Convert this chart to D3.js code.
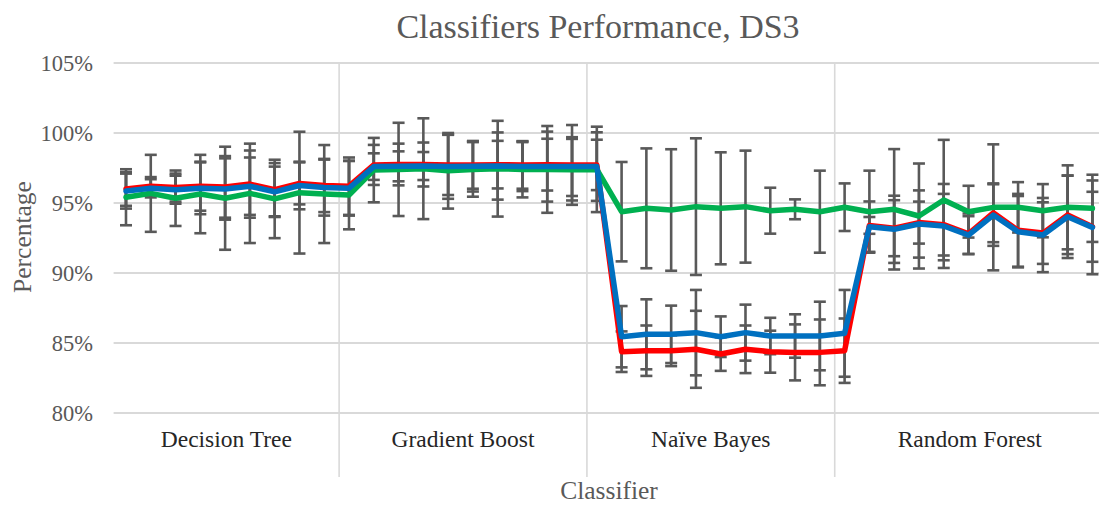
<!DOCTYPE html>
<html>
<head>
<meta charset="utf-8">
<script src="https://cdn.jsdelivr.net/npm/d3@7/dist/d3.min.js"></script>
<style>
  html, body { margin: 0; padding: 0; background: #fff; }
  svg { display: block; font-family: "Liberation Serif", "Times New Roman", serif; }
</style>
</head>
<body>
<svg id="chart" width="1099" height="506"></svg>
<script>
// Classifier groups on the category axis and how many run cells each label spans
const groups = ["Decision Tree", "Gradient Boost", "Naïve Bayes", "Random Forest"];
const groupSpans = [9, 10, 10, 11];

// Y axis ticks (percent)
const yTicks = [80, 85, 90, 95, 100, 105];

// Mean scores per run (percent), 10 runs per classifier
const redValues = [
  96.0, 96.2, 96.1, 96.2, 96.15, 96.35, 95.95, 96.4, 96.25, 96.2,
  97.72, 97.75, 97.75, 97.72, 97.72, 97.74, 97.72, 97.74, 97.72, 97.72,
  84.38, 84.45, 84.45, 84.55, 84.21, 84.55, 84.38, 84.33, 84.33, 84.45,
  93.4, 93.2, 93.6, 93.45, 92.8, 94.3, 93.05, 92.85, 94.15, 93.3
];
const blueValues = [
  95.85, 96.05, 95.95, 96.05, 96.0, 96.2, 95.8, 96.25, 96.1, 96.05,
  97.6, 97.62, 97.64, 97.6, 97.62, 97.64, 97.6, 97.6, 97.6, 97.6,
  85.45, 85.62, 85.62, 85.74, 85.45, 85.74, 85.5, 85.5, 85.5, 85.69,
  93.31, 93.12, 93.5, 93.36, 92.71, 94.14, 92.95, 92.71, 94.02, 93.26
];
const greenValues = [
  95.41, 95.69, 95.34, 95.64, 95.34, 95.69, 95.29, 95.74, 95.64, 95.57,
  97.35, 97.4, 97.45, 97.3, 97.4, 97.45, 97.4, 97.4, 97.38, 97.4,
  94.38, 94.62, 94.5, 94.74, 94.62, 94.74, 94.45, 94.55, 94.38, 94.7,
  94.38, 94.55, 94.07, 95.21, 94.38, 94.69, 94.69, 94.45, 94.69, 94.62
];

// Standard deviations (percent) shown as error bars
const redErrors = [
  1.2, 0.65, 1.0, 1.75, 2.2, 2.4, 1.9, 1.5, 1.9, 2.05,
  1.43, 1.49, 1.57, 2.15, 1.7, 1.7, 1.7, 1.85, 2.85, 1.8,
  1.45, 1.8, 1.1, 2.75, 1.2, 1.7, 1.5, 2.0, 2.35, 2.3,
  0.6, 2.0, 1.5, 2.2, 1.45, 2.1, 2.6, 2.2, 2.8, 2.5
];
const blueErrors = [
  1.25, 0.65, 1.0, 1.85, 2.19, 2.05, 1.8, 1.7, 2.0, 1.95,
  0.95, 1.07, 1.0, 2.3, 1.8, 2.4, 1.75, 2.5, 2.1, 2.45,
  2.19, 2.5, 2.05, 3.05, 1.45, 2.0, 1.3, 1.55, 2.45, 3.1,
  1.8, 2.4, 2.4, 3.0, 1.35, 2.2, 2.55, 2.65, 2.95, 3.35
];
const greenErrors = [
  2.0, 2.75, 1.98, 2.8, 3.68, 3.55, 2.8, 4.35, 3.5, 2.45,
  2.3, 3.33, 3.6, 2.7, 1.95, 3.42, 2.0, 3.1, 2.2, 3.05,
  3.55, 4.28, 4.34, 4.88, 4.0, 4.0, 1.64, 0.71, 2.93, 1.7,
  2.93, 4.3, 3.75, 4.3, 1.85, 4.5, 1.8, 1.9, 3.0, 2.4
];

const series = [
  { values: redValues,   errors: redErrors,   color: "#ff0000" },
  { values: greenValues, errors: greenErrors, color: "#00b050" },
  { values: blueValues,  errors: blueErrors,  color: "#0070c0" }
];

// Layout
const plot = { left: 113.6, right: 1104.8, top: 63, bottom: 413 };
const separatorBottom = 477;
const separatorNudge = 2.5;

const svg = d3.select("#chart");

const runs = d3.range(redValues.length);
const x = d3.scaleBand().domain(runs).range([plot.left, plot.right]).padding(0);
const cx = i => x(i) + x.bandwidth() / 2;
const edge = i => (i >= runs.length ? plot.right : x(i));
const y = d3.scaleLinear().domain([80, 105]).range([plot.bottom, plot.top]);

// Horizontal gridlines
svg.append("g")
  .selectAll("line")
  .data(yTicks)
  .join("line")
  .attr("x1", plot.left)
  .attr("x2", plot.right)
  .attr("y1", d => y(d))
  .attr("y2", d => y(d))
  .attr("stroke", "#d9d9d9")
  .attr("stroke-width", 1.8);

// Y axis labels
const yAxis = svg.append("g")
  .attr("transform", `translate(${plot.left},0)`)
  .call(d3.axisLeft(y).tickValues(yTicks).tickFormat(d => d + "%").tickSize(0).tickPadding(20.5));
yAxis.select(".domain").remove();
yAxis.selectAll("text")
  .attr("fill", "#595959")
  .style("font-family", "'Liberation Serif', 'Times New Roman', serif")
  .style("font-size", "22.5px");

// Group separators and labels along the category axis
const bounds = [0];
groupSpans.forEach(s => bounds.push(bounds[bounds.length - 1] + s));

svg.append("g")
  .selectAll("line")
  .data(bounds.slice(1, -1))
  .join("line")
  .attr("x1", d => edge(d) + separatorNudge)
  .attr("x2", d => edge(d) + separatorNudge)
  .attr("y1", plot.top)
  .attr("y2", separatorBottom)
  .attr("stroke", "#d9d9d9")
  .attr("stroke-width", 1.6);

svg.append("g")
  .selectAll("text")
  .data(groups)
  .join("text")
  .attr("x", (d, i) => {
    const a = i === 0 ? plot.left : edge(bounds[i]) + separatorNudge;
    const b = i === groups.length - 1 ? plot.right : edge(bounds[i + 1]) + separatorNudge;
    return (a + b) / 2;
  })
  .attr("y", 446.5)
  .attr("text-anchor", "middle")
  .attr("fill", "#262626")
  .style("font-size", "23.5px")
  .text(d => d);

// Error bars
const capHalf = 6;
const barLayer = svg.append("g")
  .attr("stroke", "#595959")
  .attr("stroke-width", 2.6)
  .attr("fill", "none");

series.forEach(s => {
  const g = barLayer.append("g");
  const bars = g.selectAll("g")
    .data(runs)
    .join("g");
  bars.append("line")
    .attr("x1", i => cx(i)).attr("x2", i => cx(i))
    .attr("y1", i => y(s.values[i] + s.errors[i]))
    .attr("y2", i => y(s.values[i] - s.errors[i]));
  bars.append("line")
    .attr("x1", i => cx(i) - capHalf).attr("x2", i => cx(i) + capHalf)
    .attr("y1", i => y(s.values[i] + s.errors[i]))
    .attr("y2", i => y(s.values[i] + s.errors[i]));
  bars.append("line")
    .attr("x1", i => cx(i) - capHalf).attr("x2", i => cx(i) + capHalf)
    .attr("y1", i => y(s.values[i] - s.errors[i]))
    .attr("y2", i => y(s.values[i] - s.errors[i]));
});

// Series lines
const line = d3.line()
  .x((d, i) => cx(i))
  .y(d => y(d));

svg.append("g")
  .selectAll("path")
  .data(series)
  .join("path")
  .attr("d", s => line(s.values))
  .attr("fill", "none")
  .attr("stroke", s => s.color)
  .attr("stroke-width", 5.5)
  .attr("stroke-linejoin", "round")
  .attr("stroke-linecap", "round");

// Titles
svg.append("text")
  .attr("x", 598)
  .attr("y", 38)
  .attr("text-anchor", "middle")
  .attr("fill", "#595959")
  .style("font-size", "34px")
  .text("Classifiers Performance, DS3");

svg.append("text")
  .attr("transform", "translate(31,237) rotate(-90)")
  .attr("text-anchor", "middle")
  .attr("fill", "#595959")
  .style("font-size", "25.5px")
  .text("Percentage");

svg.append("text")
  .attr("x", 609)
  .attr("y", 499)
  .attr("text-anchor", "middle")
  .attr("fill", "#595959")
  .style("font-size", "25.5px")
  .text("Classifier");
</script>
</body>
</html>
